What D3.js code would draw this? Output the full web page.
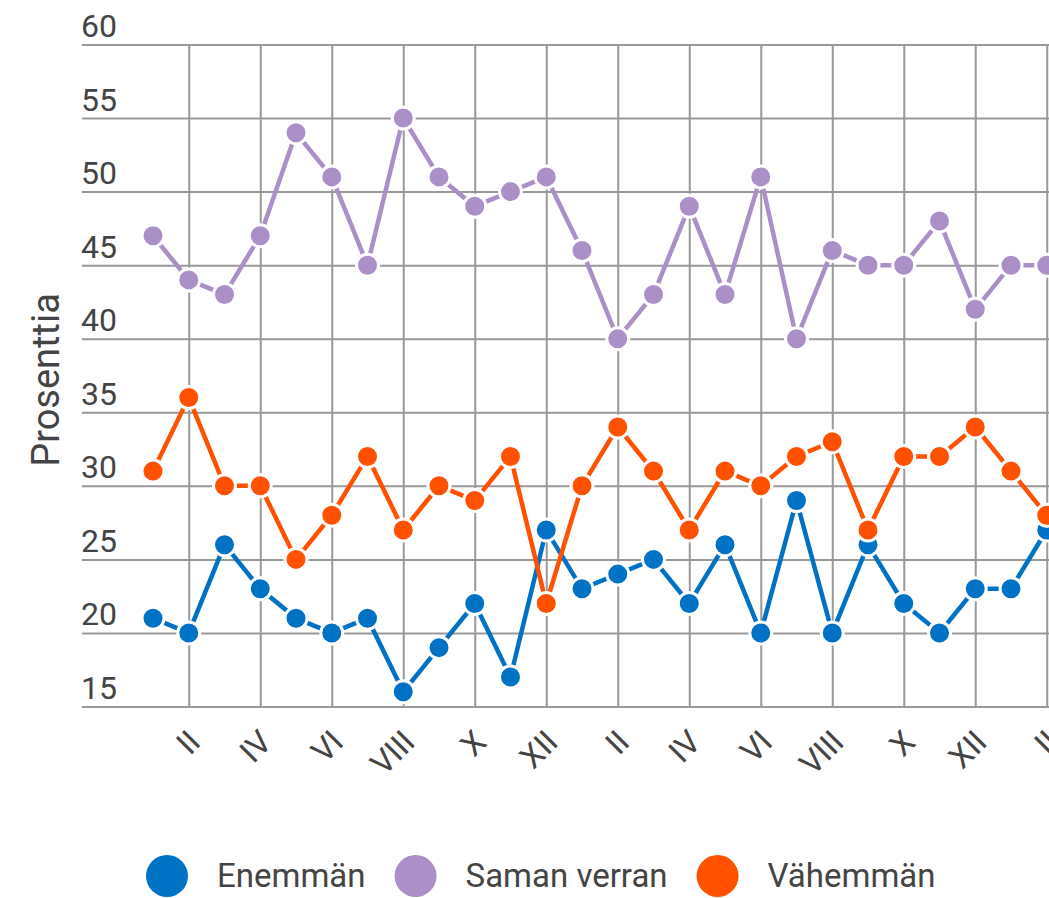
<!DOCTYPE html>
<html>
<head>
<meta charset="utf-8">
<script src="https://cdn.jsdelivr.net/npm/d3@7"></script>
<style>
  body { margin: 0; background: #fff; }
  svg { display: block; font-family: Roboto, "Noto Sans", sans-serif; }
</style>
</head>
<body>
<div class="chart"></div>
<script>
// months shown on the x axis (two years + two months)
var months = ["I", "II", "III", "IV", "V", "VI", "VII", "VIII", "IX", "X", "XI", "XII",
              "I", "II", "III", "IV", "V", "VI", "VII", "VIII", "IX", "X", "XI", "XII",
              "I", "II"];

var seriesNames = ["Enemmän", "Saman verran", "Vähemmän"];
var seriesColors = ["#0072c6", "#ab8fc7", "#ff5100"];

var enemman = [21, 20, 26, 23, 21, 20, 21, 16, 19, 22, 17, 27,
               23, 24, 25, 22, 26, 20, 29, 20, 26, 22, 20, 23, 23, 27];
var samanVerran = [47, 44, 43, 47, 54, 51, 45, 55, 51, 49, 50, 51,
                   46, 40, 43, 49, 43, 51, 40, 46, 45, 45, 48, 42, 45, 45];
var vahemman = [31, 36, 30, 30, 25, 28, 32, 27, 30, 29, 32, 22,
                30, 34, 31, 27, 31, 30, 32, 33, 27, 32, 32, 34, 31, 28];

var yTicks = [15, 20, 25, 30, 35, 40, 45, 50, 55, 60];
var yTitle = "Prosenttia";

var svgWidth = 1049;
var svgHeight = 898;

var svg = d3.select(".chart")
  .append("svg")
  .attr("width", svgWidth)
  .attr("height", svgHeight);

var plotLeft = 82;
var plotTop = 44.5;
var plotBottom = 706.5;

var x = d3.scaleLinear()
  .domain([0, months.length - 1])
  .range([153, 153 + (months.length - 1) * 35.75]);

var y = d3.scaleLinear()
  .domain([15, 60])
  .range([plotBottom, plotTop]);

// horizontal grid + labels
var yAxis = d3.axisLeft(y)
  .tickValues(yTicks)
  .tickSize(-(svgWidth - plotLeft))
  .tickFormat(d3.format("d"));

svg.append("g")
  .attr("transform", "translate(" + plotLeft + ",0)")
  .call(yAxis)
  .attr("font-family", "Roboto, sans-serif")
  .attr("font-size", 32)
  .call(function(g) { g.select(".domain").remove(); })
  .call(function(g) {
    g.selectAll(".tick line").attr("stroke", "#999").attr("stroke-width", 2);
  })
  .call(function(g) {
    g.selectAll(".tick text")
      .attr("x", -1)
      .attr("dy", -8)
      .attr("text-anchor", "start")
      .attr("fill", "#444");
  });

// vertical grid + month labels (every other month)
var xAxis = d3.axisBottom(x)
  .tickValues(d3.range(1, months.length, 2))
  .tickSize(-(plotBottom - plotTop))
  .tickFormat(function(i) { return months[i]; });

svg.append("g")
  .attr("transform", "translate(0," + plotBottom + ")")
  .call(xAxis)
  .attr("font-family", "Roboto, sans-serif")
  .attr("font-size", 32)
  .call(function(g) { g.select(".domain").remove(); })
  .call(function(g) {
    g.selectAll(".tick line").attr("stroke", "#999").attr("stroke-width", 2);
  })
  .call(function(g) {
    g.selectAll(".tick text")
      .attr("x", 0)
      .attr("y", 0)
      .attr("dy", 0)
      .attr("text-anchor", "end")
      .attr("transform", "translate(13,37.5) rotate(-45)")
      .attr("fill", "#444");
  });

// y title
svg.append("text")
  .attr("transform", "translate(59,380) rotate(-90)")
  .attr("text-anchor", "middle")
  .attr("font-size", 38)
  .attr("fill", "#444")
  .text(yTitle);

// lines
var line = d3.line()
  .x(function(d, i) { return x(i); })
  .y(function(d) { return y(d); });

var allSeries = [enemman, samanVerran, vahemman];

allSeries.forEach(function(values, s) {
  var g = svg.append("g");
  g.append("path")
    .attr("d", line(values))
    .attr("fill", "none")
    .attr("stroke", seriesColors[s])
    .attr("stroke-width", 4.5);

  g.selectAll("circle")
    .data(values)
    .enter().append("circle")
      .attr("cx", function(d, i) { return x(i); })
      .attr("cy", function(d) { return y(d); })
      .attr("r", 11)
      .attr("fill", seriesColors[s])
      .attr("stroke", "#fff")
      .attr("stroke-width", 3);
});

// legend
var legend = svg.append("g");
var cx = 167;
seriesNames.forEach(function(name, s) {
  legend.append("circle")
    .attr("cx", cx)
    .attr("cy", 876)
    .attr("r", 21)
    .attr("fill", seriesColors[s]);
  var t = legend.append("text")
    .attr("x", cx + 50)
    .attr("y", 887)
    .attr("font-size", 33)
    .attr("fill", "#444")
    .text(name);
  cx = cx + 50 + t.node().getComputedTextLength() + 50;
});
</script>
</body>
</html>
